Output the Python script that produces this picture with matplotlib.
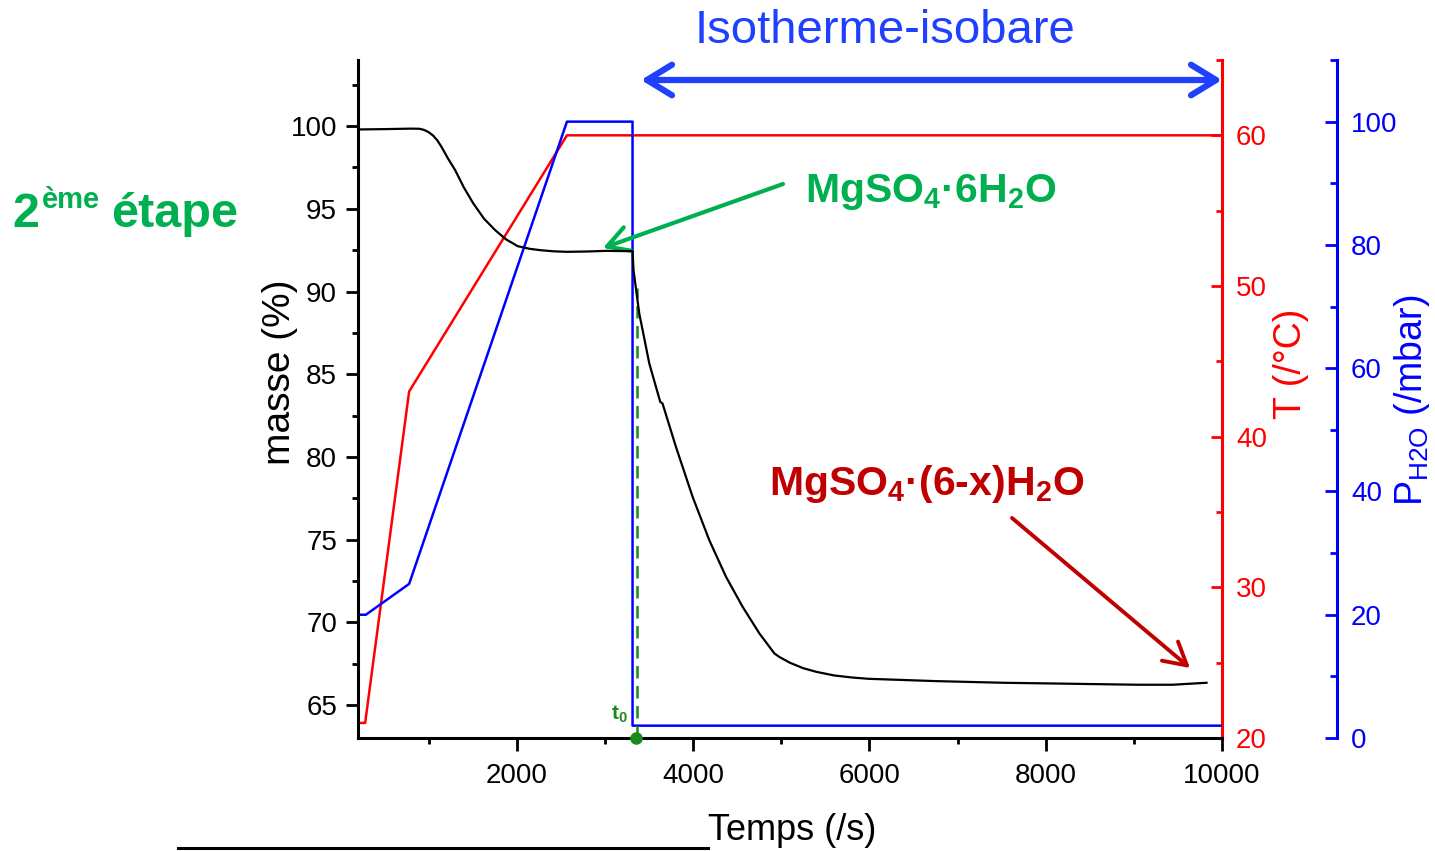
import matplotlib
matplotlib.use('Agg')
import numpy as np
import matplotlib.pyplot as plt
from matplotlib.ticker import MultipleLocator

plt.rcParams['font.family'] = ['Liberation Sans', 'DejaVu Sans']
plt.rcParams['mathtext.fontset'] = 'custom'
plt.rcParams['mathtext.rm'] = 'Liberation Sans'
plt.rcParams['mathtext.bf'] = 'Liberation Sans:bold'
plt.rcParams['mathtext.it'] = 'Liberation Sans:italic'

# masse (%) vs temps (s)
t_masse = [200, 500, 800, 900, 950, 1000, 1050, 1100, 1150, 1220, 1302, 1400, 1506,
           1630, 1756, 1880, 2012, 2150, 2267, 2420, 2570, 2800, 3026, 3277, 3314,
           3325, 3390, 3504, 3628, 3654, 3806, 3995, 4184, 4374, 4562, 4752, 4922,
           4979, 5100, 5250, 5400, 5603, 5800, 5989, 6755, 7521, 8288, 9052, 9438,
           9824]
masse = [99.80, 99.82, 99.85, 99.84, 99.77, 99.64, 99.44, 99.14, 98.72, 98.05,
         97.34, 96.3, 95.34, 94.4, 93.71, 93.15, 92.74, 92.58, 92.5, 92.43, 92.40,
         92.42, 92.46, 92.44, 92.46, 91.29, 88.68, 85.65, 83.33, 83.23, 80.61,
         77.59, 74.97, 72.75, 70.94, 69.33, 68.12, 67.90, 67.55, 67.22, 67.0, 66.78,
         66.66, 66.58, 66.44, 66.34, 66.28, 66.22, 66.22, 66.34]

# temperature (°C)
t_temp = [200, 281, 780, 2570, 10000]
temp = [21, 21, 43, 60, 60]

# pression H2O (mbar)
t_pres = [200, 289, 780, 2570, 3314, 3314, 10000]
pres = [20, 20, 25, 100, 100, 2, 2]

t0 = 3365

W, H = 1435, 851
fig = plt.figure(figsize=(W / 100, H / 100), dpi=100)


def fx(px):
    return px / W


def fy(py):
    return 1 - py / H


ax = fig.add_axes([fx(358), fy(738), fx(1222) - fx(358), fy(60) - fy(738)])
ax2 = ax.twinx()
ax3 = ax.twinx()
ax3.spines['right'].set_position(('axes', (1337 - 358) / (1222 - 358)))

ax2.plot(t_temp, temp, color='#ff0000', lw=1.8)
ax3.plot(t_pres, pres, color='#0000ff', lw=1.8)
ax.plot(t_masse, masse, color='black', lw=1.6, zorder=5)
ax.set_zorder(3)
ax.patch.set_visible(False)

# t0 marker
ax.plot([t0, t0], [63, 90.2], color='#1a8a1a', lw=1.8, ls=(0, (5, 3)), zorder=4)
ax.plot([t0 - 10], [63], 'o', color='#1a8a1a', ms=8, clip_on=False, zorder=6)
ax.text(3070, 63.8, r'$\mathbf{t_0}$', color='#1a8a1a', fontsize=15, ha='left', va='bottom')

ax.set_xlim(200, 10000)
ax.set_ylim(63, 104)
ax2.set_ylim(20, 65)
ax3.set_ylim(0, 110)

for a in (ax, ax2, ax3):
    a.spines['top'].set_visible(False)
ax2.spines['left'].set_visible(False)
ax3.spines['left'].set_visible(False)
ax2.spines['bottom'].set_visible(False)
ax3.spines['bottom'].set_visible(False)
ax.spines['right'].set_visible(False)

for s in ('left', 'bottom'):
    ax.spines[s].set_linewidth(2.2)
ax2.spines['right'].set_color('#ff0000')
ax2.spines['right'].set_linewidth(2.2)
ax3.spines['right'].set_color('#0000ff')
ax3.spines['right'].set_linewidth(2.2)

ax.xaxis.set_major_locator(MultipleLocator(2000))
ax.xaxis.set_minor_locator(MultipleLocator(1000))
ax.yaxis.set_major_locator(MultipleLocator(5))
ax.yaxis.set_minor_locator(MultipleLocator(2.5))
ax2.yaxis.set_major_locator(MultipleLocator(10))
ax2.yaxis.set_minor_locator(MultipleLocator(5))
ax3.yaxis.set_major_locator(MultipleLocator(20))
ax3.yaxis.set_minor_locator(MultipleLocator(10))

ax.tick_params(axis='both', which='major', length=9, width=2, labelsize=20, pad=6)
ax.tick_params(axis='x', which='major', pad=9)
ax.tick_params(axis='both', which='minor', length=4.5, width=2)
ax2.tick_params(axis='y', which='major', direction='in', length=8, width=2,
                colors='#ff0000', labelsize=20, pad=10)
ax2.tick_params(axis='y', which='minor', direction='in', length=4.5, width=2, colors='#ff0000')
ax3.tick_params(axis='y', which='major', direction='in', length=8.5, width=2,
                colors='#0000ff', labelsize=20, pad=10)
ax3.tick_params(axis='y', which='minor', direction='in', length=5, width=2, colors='#0000ff')

# axis labels
fig.text(fx(280), fy(372), 'masse (%)', rotation=90, fontsize=28, ha='center', va='center')
fig.text(fx(708), fy(831), 'Temps (/s)', fontsize=26, ha='left', va='center')
fig.text(fx(1291), fy(364), 'T (/°C)', rotation=90, fontsize=27, color='#ff0000',
         ha='center', va='center')
fig.text(fx(1412), fy(400), r'P$_{\mathregular{H2O}}$ (/mbar)', rotation=90, fontsize=27,
         color='#0000ff', ha='center', va='center')
fig.add_artist(plt.Line2D([fx(178), fx(708)], [fy(848), fy(848)], color='black', lw=2.2))

# annotations
fig.text(fx(885), fy(31), 'Isotherme-isobare', fontsize=34, color='#2040ff',
         ha='center', va='center')
ax.annotate('', xy=(1222, H - 80), xytext=(641, H - 80), xycoords='figure pixels',
            textcoords='figure pixels',
            arrowprops=dict(arrowstyle='<->,head_length=0.9,head_width=0.55',
                            mutation_scale=20, lw=4.5, color='#2040ff',
                            shrinkA=0, shrinkB=0))

green = '#00b050'
fig.text(fx(12), fy(227), '2', fontsize=35, fontweight='bold', color=green,
         ha='left', va='baseline')
fig.text(fx(42), fy(208), 'ème', fontsize=21, fontweight='bold', color=green,
         ha='left', va='baseline')
fig.text(fx(111), fy(227), 'étape', fontsize=35, fontweight='bold', color=green,
         ha='left', va='baseline')

fig.text(fx(805), fy(202), r'MgSO$_\mathbf{4}$·6H$_\mathbf{2}$O',
         fontsize=29.5, fontweight='bold', color=green, ha='left', va='baseline')
ax.annotate('', xy=(603, H - 248), xytext=(783, H - 184), xycoords='figure pixels',
            textcoords='figure pixels',
            arrowprops=dict(arrowstyle='->,head_length=0.8,head_width=0.45',
                            mutation_scale=20, lw=3, color=green,
                            shrinkA=0, shrinkB=0))

dred = '#c00000'
fig.text(fx(769), fy(495), r'MgSO$_\mathbf{4}$·(6-x)H$_\mathbf{2}$O',
         fontsize=29.5, fontweight='bold', color=dred, ha='left', va='baseline')
ax.annotate('', xy=(1190, H - 668), xytext=(1012, H - 518), xycoords='figure pixels',
            textcoords='figure pixels',
            arrowprops=dict(arrowstyle='->,head_length=0.8,head_width=0.45',
                            mutation_scale=20, lw=2.8, color=dred,
                            shrinkA=0, shrinkB=0))

fig.savefig('out.png', dpi=100)
